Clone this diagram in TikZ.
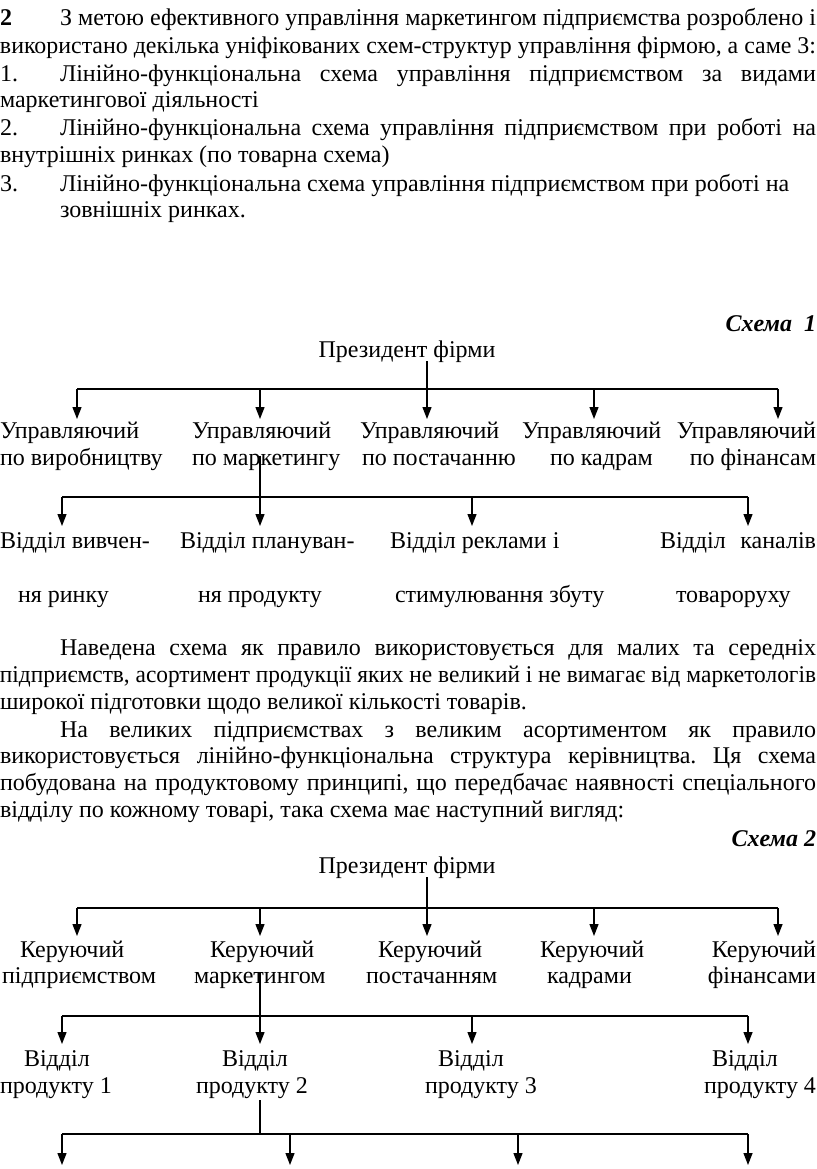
\documentclass[tikz,border=0pt]{standalone}
\usepackage{fontspec}
\setmainfont{Liberation Serif}
\usetikzlibrary{arrows.meta}
\frenchspacing
\newsavebox\jbox
\newcommand\jline[2]{\sbox\jbox{#2}\ifdim\wd\jbox>#1\relax\resizebox{#1}{\height}{\usebox\jbox}\else\makebox[#1][s]{#2}\fi}
\begin{document}
\begin{tikzpicture}[x=1pt,y=-1pt,
  txt/.style={inner sep=0pt, outer sep=0pt, anchor=base west, font=\fontsize{24}{28}\selectfont},
  ctr/.style={txt, anchor=base},
  rgt/.style={txt, anchor=base east},
  ln/.style={line width=1.3pt},
  arr/.style={line width=1.3pt, -{Triangle[length=12pt,width=9pt]}},
]
\useasboundingbox (0,0) rectangle (816,1169);
% ---------- header ----------
\node[txt] (h1a) at (0,26) {\textbf{2}};
\node[txt] (h1) at (60,26) {\jline{756pt}{З метою ефективного управління маркетингом підприємства розроблено і}};
\node[txt] (h2) at (0,54) {\jline{816pt}{використано декілька уніфікованих схем-структур управління фірмою, а саме 3:}};
\node[txt] (h3a) at (0,82) {1.};
\node[txt] (h3) at (60,82) {\jline{756pt}{Лінійно-функціональна схема управління підприємством за видами}};
\node[txt] (h4) at (0,108) {маркетингової діяльності};
\node[txt] (h5a) at (0,136) {2.};
\node[txt] (h5) at (60,136) {\jline{756pt}{Лінійно-функціональна схема управління підприємством при роботі на}};
\node[txt] (h6) at (0,163) {внутрішніх ринках (по товарна схема)};
\node[txt] (h7a) at (0,191) {3.};
\node[txt] (h7) at (60,191) {Лінійно-функціональна схема управління підприємством при роботі на};
\node[txt] (h8) at (60,217) {зовнішніх ринках.};
% ---------- schema 1 ----------
\node[rgt] (sch1) at (816,331) {\textbf{\textit{Схема\ \ 1}}};
\node[ctr] (pres1) at (407,357) {Президент фірми};
\node[txt] (m1a) at (0,438) {Управляючий};
\node[txt] (m1b) at (0,465) {по виробництву};
\node[txt] (m2a) at (192,438) {Управляючий};
\node[txt] (m2b) at (192,465) {по маркетингу};
\node[txt] (m3a) at (360,438) {Управляючий};
\node[txt] (m3b) at (362,465) {по постачанню};
\node[txt] (m4a) at (522,438) {Управляючий};
\node[txt] (m4b) at (550,465) {по кадрам};
\node[rgt] (m5a) at (816,438) {Управляючий};
\node[rgt] (m5b) at (816,465) {по фінансам};
\node[txt] (d1a) at (0,548) {Відділ вивчен-};
\node[txt] (d1b) at (18,602) {ня ринку};
\node[txt] (d2a) at (180,548) {Відділ плануван-};
\node[txt] (d2b) at (198,602) {ня продукту};
\node[txt] (d3a) at (390,548) {Відділ реклами і};
\node[txt] (d3b) at (395,602) {стимулювання збуту};
\node[txt] (d4a) at (660,548) {\makebox[156pt][s]{Відділ каналів}};
\node[txt] (d4b) at (676,602) {товароруху};
\coordinate (t1) at (427,361);
\coordinate (b1) at (427,389);
\foreach \i/\x in {1/77,2/260,3/427,4/594,5/778} \coordinate (a1\i) at (\x,419);
\draw[ln] (t1) -- (b1);
\draw[ln] (a11 |- b1) -- (a15 |- b1);
\foreach \i in {1,...,5} \draw[arr] (a1\i |- b1) -- (a1\i);
\coordinate (t2) at (260,456);
\coordinate (b2) at (260,497);
\foreach \i/\x in {1/62,2/260,3/472,4/748} \coordinate (c1\i) at (\x,526);
\draw[ln] (t2) -- (b2);
\draw[ln] (c11 |- b2) -- (c14 |- b2);
\foreach \i in {1,...,4} \draw[arr] (c1\i |- b2) -- (c1\i);
% ---------- paragraph ----------
\node[txt] (p1) at (60,655) {\jline{756pt}{Наведена схема як правило використовується для малих та середніх}};
\node[txt] (p2) at (0,682) {\jline{816pt}{підприємств, асортимент продукції яких не великий і не вимагає від маркетологів}};
\node[txt] (p3) at (0,709) {широкої підготовки щодо великої кількості товарів.};
\node[txt] (p4) at (60,737) {\jline{756pt}{На великих підприємствах з великим асортиментом як правило}};
\node[txt] (p5) at (0,763) {\jline{816pt}{використовується лінійно-функціональна структура керівництва. Ця схема}};
\node[txt] (p6) at (0,790) {\jline{816pt}{побудована на продуктовому принципі, що передбачає наявності спеціального}};
\node[txt] (p7) at (0,817) {відділу по кожному товарі, така схема має наступний вигляд:};
% ---------- schema 2 ----------
\node[rgt] (sch2) at (816,846) {\textbf{\textit{Схема 2}}};
\node[ctr] (pres2) at (407,873) {Президент фірми};
\node[txt] (k1a) at (20,957) {Керуючий};
\node[txt] (k1b) at (2,983) {підприємством};
\node[txt] (k2a) at (210,957) {Керуючий};
\node[txt] (k2b) at (194,983) {маркетингом};
\node[txt] (k3a) at (378,957) {Керуючий};
\node[txt] (k3b) at (366,983) {постачанням};
\node[txt] (k4a) at (540,957) {Керуючий};
\node[txt] (k4b) at (547,983) {кадрами};
\node[rgt] (k5a) at (816,957) {Керуючий};
\node[rgt] (k5b) at (816,983) {фінансами};
\node[txt] (v1a) at (24,1066) {Відділ};
\node[txt] (v1b) at (0,1093) {продукту 1};
\node[txt] (v2a) at (222,1066) {Відділ};
\node[txt] (v2b) at (196,1093) {продукту 2};
\node[txt] (v3a) at (438,1066) {Відділ};
\node[txt] (v3b) at (425,1093) {продукту 3};
\node[txt] (v4a) at (712,1066) {Відділ};
\node[rgt] (v4b) at (816,1093) {продукту 4};
\coordinate (t3) at (427,877);
\coordinate (b3) at (427,908);
\foreach \i/\x in {1/77,2/260,3/427,4/594,5/778} \coordinate (a2\i) at (\x,936);
\draw[ln] (t3) -- (b3);
\draw[ln] (a21 |- b3) -- (a25 |- b3);
\foreach \i in {1,...,5} \draw[arr] (a2\i |- b3) -- (a2\i);
\coordinate (t4) at (260,973);
\coordinate (b4) at (260,1016);
\foreach \i/\x in {1/62,2/260,3/472,4/748} \coordinate (c2\i) at (\x,1044);
\draw[ln] (t4) -- (b4);
\draw[ln] (c21 |- b4) -- (c24 |- b4);
\foreach \i in {1,...,4} \draw[arr] (c2\i |- b4) -- (c2\i);
\coordinate (t5) at (260,1100);
\coordinate (b5) at (260,1134);
\foreach \i/\x in {1/62,2/290,3/518,4/748} \coordinate (e\i) at (\x,1165);
\draw[ln] (t5) -- (b5);
\draw[ln] (e1 |- b5) -- (e4 |- b5);
\foreach \i in {1,...,4} \draw[arr] (e\i |- b5) -- (e\i);
\end{tikzpicture}
\end{document}
